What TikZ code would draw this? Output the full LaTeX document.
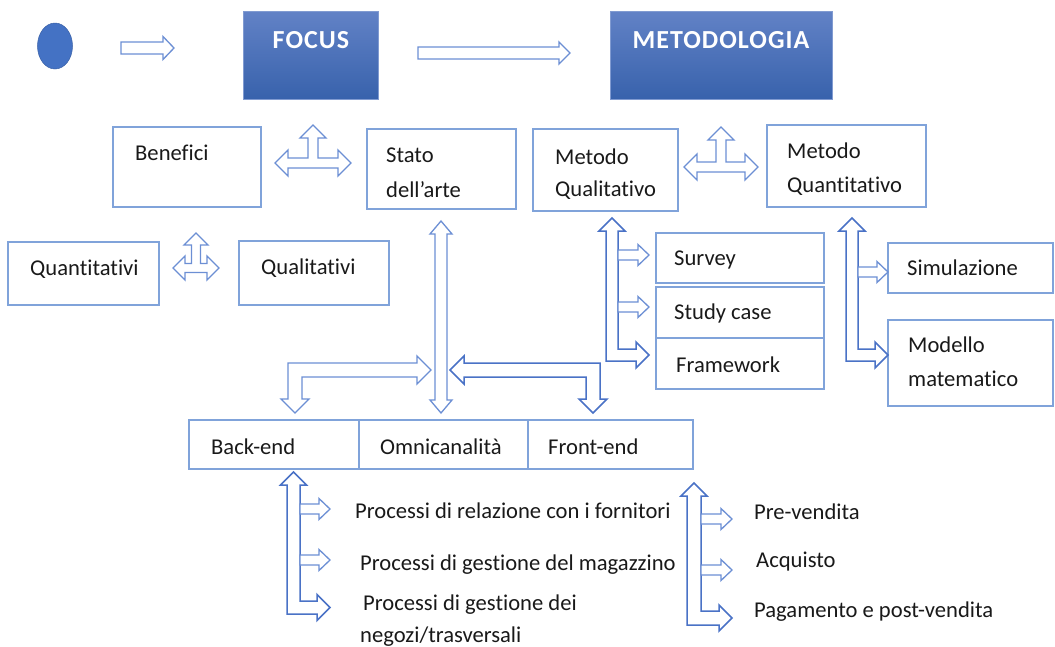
\documentclass[tikz,border=0pt]{standalone}
\usepackage{fontspec}
\setmainfont[Ligatures=NoCommon]{Carlito}
\usetikzlibrary{shapes.geometric}

\definecolor{boxline}{RGB}{128,163,218}
\definecolor{arrlight}{RGB}{108,143,212}
\definecolor{arrdark}{RGB}{74,114,198}
\definecolor{titletop}{RGB}{98,130,198}
\definecolor{titlebot}{RGB}{56,98,172}
\definecolor{dotblue}{RGB}{68,114,196}
\definecolor{ink}{RGB}{25,25,25}

% right-pointing block arrow: style, x1, x2, y, half shaft, half head, head length
\newcommand\blockright[7]{%
  \draw[#1] (#2,{#4-#5}) -- ({#3-#7},{#4-#5}) -- ({#3-#7},{#4-#6}) -- (#3,#4)
    -- ({#3-#7},{#4+#6}) -- ({#3-#7},{#4+#5}) -- (#2,{#4+#5}) -- cycle;}
% vertical double block arrow: style, x, y top, y bottom, half shaft, half head, head length
\newcommand\blockupdown[7]{%
  \draw[#1] (#2,#3) -- ({#2+#6},{#3+#7}) -- ({#2+#5},{#3+#7}) -- ({#2+#5},{#4-#7})
    -- ({#2+#6},{#4-#7}) -- (#2,#4) -- ({#2-#6},{#4-#7}) -- ({#2-#5},{#4-#7})
    -- ({#2-#5},{#3+#7}) -- ({#2-#6},{#3+#7}) -- cycle;}
% up + right L-shaped block arrow: style, x, y top tip, y of horizontal, x right tip, s, h, L
\newcommand\blockupright[8]{%
  \draw[#1] (#2,#3) -- ({#2+#7},{#3+#8}) -- ({#2+#6},{#3+#8}) -- ({#2+#6},{#4-#6})
    -- ({#5-#8},{#4-#6}) -- ({#5-#8},{#4-#7}) -- (#5,#4) -- ({#5-#8},{#4+#7})
    -- ({#5-#8},{#4+#6}) -- ({#2-#6},{#4+#6}) -- ({#2-#6},{#3+#8})
    -- ({#2-#7},{#3+#8}) -- cycle;}
% left-right-up block arrow: style, cx, cy, half width, top tip, s, h, L
\newcommand\blocklru[8]{%
  \draw[#1] ({#2-#4},#3) -- ({#2-#4+#8},{#3-#7}) -- ({#2-#4+#8},{#3-#6})
    -- ({#2-#6},{#3-#6}) -- ({#2-#6},{#5+#8}) -- ({#2-#7},{#5+#8}) -- (#2,#5)
    -- ({#2+#7},{#5+#8}) -- ({#2+#6},{#5+#8}) -- ({#2+#6},{#3-#6})
    -- ({#2+#4-#8},{#3-#6}) -- ({#2+#4-#8},{#3-#7}) -- ({#2+#4},#3)
    -- ({#2+#4-#8},{#3+#7}) -- ({#2+#4-#8},{#3+#6}) -- ({#2-#4+#8},{#3+#6})
    -- ({#2-#4+#8},{#3+#7}) -- cycle;}
% elbow arrow, corner at upper left: style, right tip x, y, down tip x, y, s, h, L
\newcommand\elbowleft[8]{%
  \draw[#1] (#2,#3) -- ({#2-#8},{#3+#7}) -- ({#2-#8},{#3+#6}) -- ({#4+#6},{#3+#6})
    -- ({#4+#6},{#5-#8}) -- ({#4+#7},{#5-#8}) -- (#4,#5) -- ({#4-#7},{#5-#8})
    -- ({#4-#6},{#5-#8}) -- ({#4-#6},{#3-#6}) -- ({#2-#8},{#3-#6})
    -- ({#2-#8},{#3-#7}) -- cycle;}
% elbow arrow, corner at upper right: style, left tip x, y, down tip x, y, s, h, L
\newcommand\elbowright[8]{%
  \draw[#1] (#2,#3) -- ({#2+#8},{#3-#7}) -- ({#2+#8},{#3-#6}) -- ({#4+#6},{#3-#6})
    -- ({#4+#6},{#5-#8}) -- ({#4+#7},{#5-#8}) -- (#4,#5) -- ({#4-#7},{#5-#8})
    -- ({#4-#6},{#5-#8}) -- ({#4-#6},{#3+#6}) -- ({#2+#8},{#3+#6})
    -- ({#2+#8},{#3+#7}) -- cycle;}

\begin{document}
\begin{tikzpicture}[x=1pt,y=-1pt,
  box/.style={draw=boxline, line width=1.4pt, inner sep=0pt, outer sep=0pt},
  titlebox/.style={top color=titletop, bottom color=titlebot, draw=titletop!80!white,
    line width=0.6pt, inner sep=0pt, outer sep=0pt},
  titletext/.style={text=white, font=\fontsize{26}{29}\selectfont\bfseries\addfontfeature{LetterSpace=4},
    inner sep=0pt, anchor=base},
  lbl/.style={anchor=base west, inner sep=0pt, text=ink, font=\fontsize{22.6}{26}\selectfont},
  alight/.style={draw=arrlight, line width=1.3pt, fill=white, line join=miter},
  adark/.style={draw=arrdark, line width=1.5pt, fill=white, line join=miter}]
\useasboundingbox (0,0) rectangle (1055,646);

% header row
\node[ellipse, fill=dotblue, draw=dotblue!85!black, line width=0.5pt,
  minimum width=35pt, minimum height=46pt, inner sep=0pt] (dot) at (55,46) {};
\node[titlebox, minimum width=135pt, minimum height=88pt] (focus) at (310.5,55) {};
\node[titletext] (focustxt) at (311,48) {FOCUS};
\node[titlebox, minimum width=222pt, minimum height=88pt] (metodologia) at (721,55) {};
\node[titletext] (metodtxt) at (721,48) {METODOLOGIA};
\blockright{alight}{121}{174}{48}{6}{11.5}{11}
\blockright{alight}{418}{570}{53}{6}{11}{11}

% second row
\node[box, minimum width=148pt, minimum height=80pt] (benefici) at (187,167) {};
\node[lbl] (beneficitxt) at (135,160) {Benefici};
\node[box, minimum width=149pt, minimum height=80pt] (stato) at (441.5,169) {};
\node[lbl] (statotxt1) at (386,162) {Stato};
\node[lbl] (statotxt2) at (386,197) {dell’arte};
\node[box, minimum width=145pt, minimum height=82pt] (metqual) at (605.5,170) {};
\node[lbl] (metqualtxt1) at (555,164) {Metodo};
\node[lbl] (metqualtxt2) at (555,196) {Qualitativo};
\node[box, minimum width=159pt, minimum height=82pt] (metquant) at (846.5,166) {};
\node[lbl] (metquanttxt1) at (787,158) {Metodo};
\node[lbl] (metquanttxt2) at (787,192) {Quantitativo};
\blocklru{alight}{313}{163}{38}{125}{5}{13}{13}
\blocklru{alight}{721}{167}{37}{127}{5}{13}{13}

% benefits split
\node[box, minimum width=151pt, minimum height=63pt] (quantitativi) at (83.5,273.5) {};
\node[lbl] (quantitativitxt) at (30,275) {Quantitativi};
\node[box, minimum width=150pt, minimum height=64pt] (qualitativi) at (314,273) {};
\node[lbl] (qualitativitxt) at (261,274) {Qualitativi};
\blocklru{alight}{196}{268}{23}{233}{4.5}{12}{12}

% qualitative methods
\node[box, minimum width=168pt, minimum height=50pt] (survey) at (740,258) {};
\node[lbl] (surveytxt) at (674,265) {Survey};
\node[box, minimum width=168pt, minimum height=51pt] (studycase) at (740,312.5) {};
\node[lbl] (studycasetxt) at (674,319) {Study case};
\node[box, minimum width=168pt, minimum height=51pt] (framework) at (740,363.5) {};
\node[lbl] (frameworktxt) at (676,372) {Framework};
\blockupright{adark}{612}{218}{355}{649}{6}{13}{13}
\blockright{alight}{618}{649}{255}{5}{10.5}{11}
\blockright{alight}{618}{649}{307}{5}{10.5}{11}

% quantitative methods
\node[box, minimum width=165pt, minimum height=50pt] (simulazione) at (970.5,268) {};
\node[lbl] (simulazionetxt) at (907,275) {Simulazione};
\node[box, minimum width=165pt, minimum height=86pt] (modello) at (970.5,363) {};
\node[lbl] (modellotxt1) at (908,352) {Modello};
\node[lbl] (modellotxt2) at (908,386) {matematico};
\blockupright{adark}{852}{218}{355}{888}{6}{13}{13}
\blockright{alight}{858}{888}{272}{5}{10.5}{11}

% channel row
\node[box, minimum width=170pt, minimum height=49pt] (backend) at (274,444.5) {};
\node[lbl] (backendtxt) at (211,454) {Back-end};
\node[box, minimum width=169pt, minimum height=49pt] (omni) at (443.5,444.5) {};
\node[lbl] (omnitxt) at (380,454) {Omnicanalità};
\node[box, minimum width=165pt, minimum height=49pt] (frontend) at (610.5,444.5) {};
\node[lbl] (frontendtxt) at (548,454) {Front-end};
\blockupdown{alight}{441}{221}{413}{6}{11}{13}
\elbowleft{alight}{431}{370}{295}{413}{7}{14}{14}
\elbowright{adark}{450}{370}{593}{413}{7}{14}{14}

% back-end processes
\blockupright{adark}{293.5}{472}{607.5}{330}{6.5}{13}{13}
\blockright{alight}{300}{330}{509}{5}{10.5}{11}
\blockright{alight}{300}{330}{560}{5}{10.5}{11}
\node[lbl] (be1) at (355,518) {Processi di relazione con i fornitori};
\node[lbl] (be2) at (360,570) {Processi di gestione del magazzino};
\node[lbl] (be3) at (363,610) {Processi di gestione dei};
\node[lbl] (be4) at (360,642) {negozi/trasversali};

% front-end processes
\blockupright{adark}{694}{483}{618}{732}{7}{13}{13}
\blockright{alight}{701}{732}{519}{5}{10.5}{11}
\blockright{alight}{701}{732}{570}{5}{10.5}{11}
\node[lbl] (fe1) at (754,519) {Pre-vendita};
\node[lbl] (fe2) at (756,567) {Acquisto};
\node[lbl] (fe3) at (754,617) {Pagamento e post-vendita};
\end{tikzpicture}
\end{document}
